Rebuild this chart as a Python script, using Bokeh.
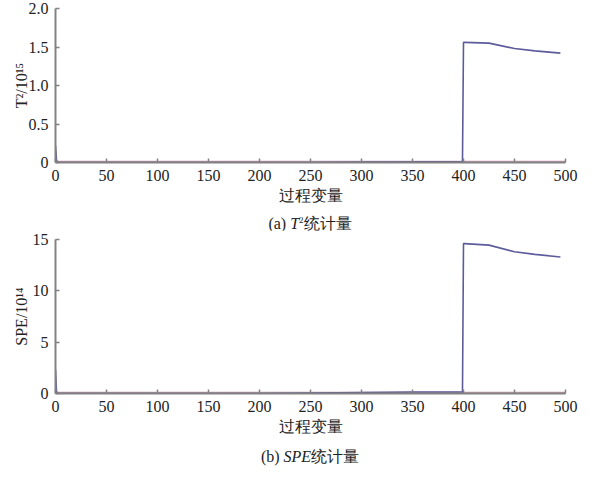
from bokeh.plotting import figure
from bokeh.layouts import column
from bokeh.models import Range1d, FixedTicker, CustomJSTickFormatter, Div
from bokeh.embed import file_html
from bokeh.resources import INLINE

# ---- data ----
x_stat = [0, 1, 2, 50, 100, 150, 200, 250, 300, 350, 399, 400, 401, 425, 450, 470, 495]
t2_vals = [0.22, 0.03, 0.0, 0.0, 0.0, 0.0, 0.0, 0.0, 0.005, 0.01, 0.01, 1.56, 1.56, 1.55, 1.48, 1.45, 1.42]
spe_vals = [2.3, 0.2, 0.03, 0.0, 0.0, 0.0, 0.0, 0.05, 0.1, 0.15, 0.15, 14.6, 14.6, 14.45, 13.8, 13.55, 13.3]
x_limit = [0, 500]
t2_limit = [0.012, 0.012]
spe_limit = [0.09, 0.09]
x_ticks = [0, 50, 100, 150, 200, 250, 300, 350, 400, 450, 500]
t2_ticks = [0, 0.5, 1.0, 1.5, 2.0]
spe_ticks = [0, 5, 10, 15]

FONT = "Liberation Serif"
STAT_COLOR = "#5c5c9c"
LIMIT_COLOR = "#c898b0"
AXIS_COLOR = "#828282"
FRAME_H = 154


def make_fig(yvals, limit, yend, yticks, ylabel, fmt, top_border, label_standoff):
    p = figure(width=585, height=top_border + FRAME_H + 48, output_backend="svg",
               toolbar_location=None, x_range=Range1d(0, 500), y_range=Range1d(0, yend),
               min_border_left=55, min_border_right=20, min_border_top=top_border,
               min_border_bottom=48)
    p.outline_line_color = None
    p.xgrid.visible = False
    p.ygrid.visible = False
    p.line(x_limit, limit, line_color=LIMIT_COLOR, line_width=1.5)
    p.line(x_stat, yvals, line_color=STAT_COLOR, line_width=1.6)

    for ax in (p.xaxis[0], p.yaxis[0]):
        ax.axis_line_color = AXIS_COLOR
        ax.axis_line_width = 2
        ax.major_tick_line_color = AXIS_COLOR
        ax.major_tick_line_width = 1.5
        ax.major_tick_in = 4
        ax.major_tick_out = 0
        ax.minor_tick_line_color = None
        ax.major_label_text_font = FONT
        ax.major_label_text_font_size = "16px"
        ax.major_label_text_color = "#222222"
        ax.axis_label_text_font = FONT
        ax.axis_label_text_font_size = "16px"
        ax.axis_label_text_font_style = "normal"
        ax.axis_label_text_color = "#222222"
        ax.major_label_standoff = 7

    p.xaxis.ticker = FixedTicker(ticks=x_ticks)
    p.xaxis.axis_label = "过程变量"
    p.xaxis.axis_label_standoff = 3
    p.yaxis.ticker = FixedTicker(ticks=yticks)
    p.yaxis.formatter = CustomJSTickFormatter(code=fmt)
    p.yaxis.axis_label = ylabel
    p.yaxis.axis_label_standoff = label_standoff
    return p


p1 = make_fig(t2_vals, t2_limit, 2.0, t2_ticks, "T²/10¹⁵",
              "return tick == 0 ? '0' : tick.toFixed(1);", 8, -4)
p2 = make_fig(spe_vals, spe_limit, 15, spe_ticks, "SPE/10¹⁴",
              "return tick.toFixed(0);", 9, 0)


def caption(html, h, pad):
    return Div(text=(f"<div style=\"margin-left:55px;width:510px;text-align:center;"
                     f"font-family:'Liberation Serif';font-size:16px;"
                     f"line-height:16px;padding-top:{pad}px;color:#222\">{html}</div>"),
               width=585, height=h, margin=0)


c1 = caption("(a) <i>T</i><sup style=\"font-size:9px\">2</sup>统计量", 20, 2)
c2 = caption("(b) <i>SPE</i>统计量", 26, 8)

layout = column(p1, c1, p2, c2, spacing=0)
open("out.html", "w").write(file_html(layout, INLINE))
